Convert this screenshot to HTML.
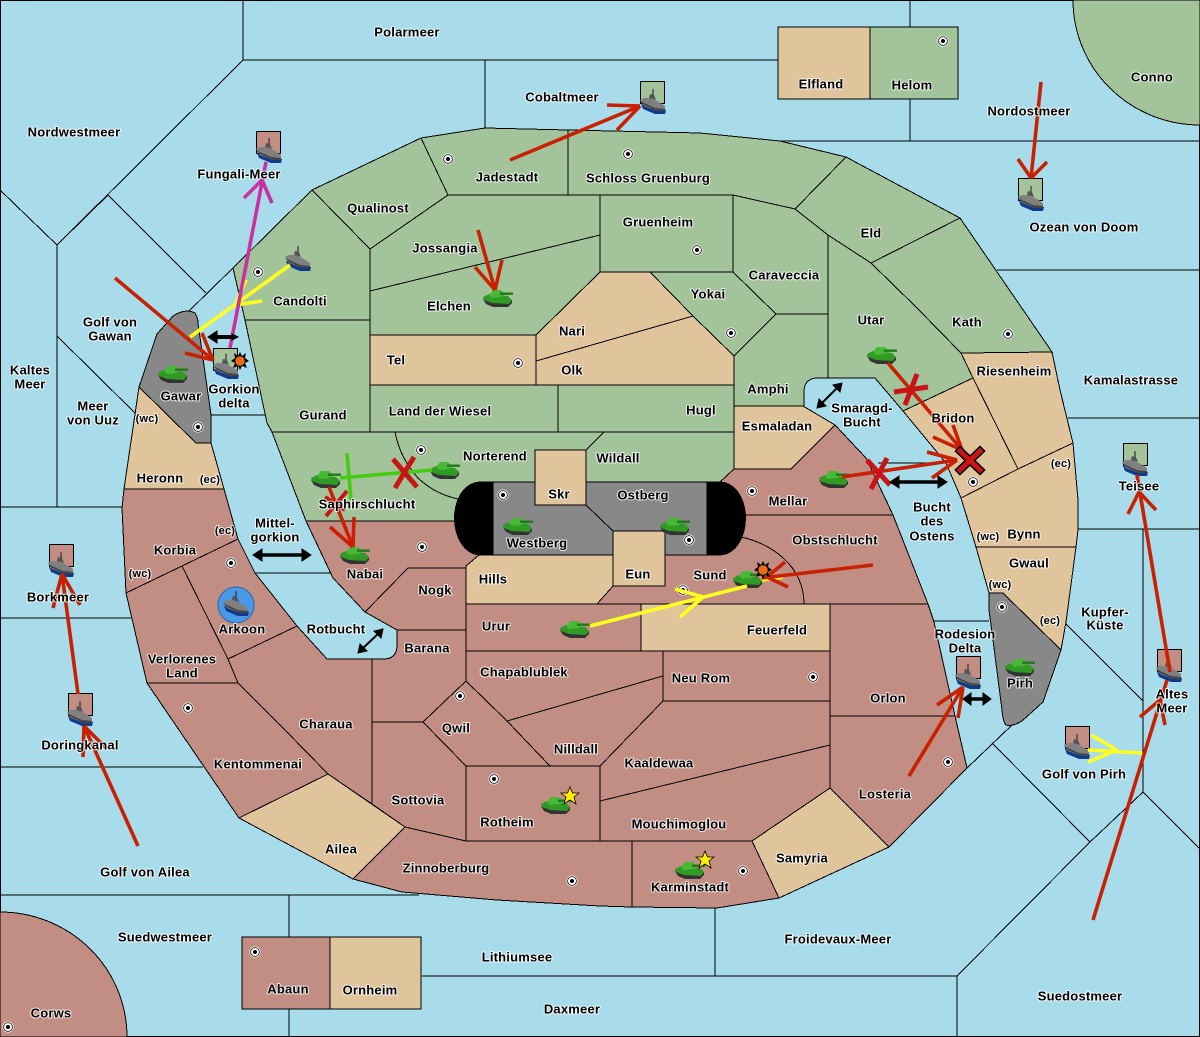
<!DOCTYPE html>
<html><head><meta charset="utf-8"><style>
html,body{margin:0;padding:0;background:#a8dcea}
svg{display:block}
.l polygon,.l path,.l rect{stroke:#000;stroke-width:1;stroke-linejoin:miter;shape-rendering:crispEdges}
.g{fill:#a3c49a}.t{fill:#e0c49c}.r{fill:#c28d83}.y{fill:#888}
.s line,.s path{stroke:#000;stroke-width:1;fill:none;shape-rendering:crispEdges}
.red line{stroke:#c82000;stroke-width:3.6;stroke-linecap:butt}
.yel line{stroke:#ffff20;stroke-width:3.6}
.mag line{stroke:#c832a0;stroke-width:3.6}
.grn line{stroke:#44cc10;stroke-width:3.6}
.xx line{stroke:#c81414;stroke-width:5}
.txt text{font-family:"Liberation Sans",sans-serif;font-weight:bold;font-size:13px;letter-spacing:.2px;text-anchor:middle;dominant-baseline:central;fill:#000;paint-order:stroke;stroke:#fff;stroke-width:2px;stroke-opacity:.8;stroke-linejoin:round}
</style></head><body>
<svg width="1200" height="1037" viewBox="0 0 1200 1037" xmlns="http://www.w3.org/2000/svg">
<defs>
<g id="tank">
<path d="M-15,2 L-12,7 L-5,10 L10,10 L14,6 L14,3 Z" fill="#333"/>
<path d="M-15,0 L-9,-3 L10,-1 L14,3 L11,7 L-6,6 L-14,3 Z" fill="#2f9a24"/>
<path d="M-9,-2 L-5,-7 L3,-7 L7,-3 L4,0 L-6,1 Z" fill="#48b838"/>
<rect x="2" y="-4.5" width="13" height="2.4" fill="#1f7a18"/>
</g>
<g id="ship">
<path d="M-12,1 L-10,6 L2,11 L12,11 L13,7 Z" fill="#0f3a8c"/>
<path d="M-13,-3 L-9,-5 L-3,-5 L6,-1 L12,3 L12,8 L4,8 L-9,3 Z" fill="#808080"/>
<path d="M-13,-2 L-9,2 L4,8 L12,8 L12,6 L2,5 L-9,0 Z" fill="#444"/>
<path d="M-4,-5 L-3,-9 L1,-8 L3,-3 Z" fill="#555"/>
<line x1="0" y1="-8" x2="0" y2="-14" stroke="#333" stroke-width="1.2"/>
</g>
<g id="cap">
<circle r="5.5" fill="#fff"/><circle r="4.4" fill="none" stroke="#000" stroke-width=".8"/><circle r="2" fill="#000"/>
</g>
<g id="star"><polygon points="0,-9 2.5,-3 9,-3 4,1 6,8 0,4 -6,8 -4,1 -9,-3 -2.5,-3" fill="#ffee00" stroke="#000" stroke-width=".8"/></g>
<g id="boom"><polygon points="0,-9 2,-5 6,-8 5,-3 9,0 5,2 7,7 2,5 0,9 -2,5 -7,7 -5,2 -9,0 -5,-3 -6,-8 -2,-5" fill="#000"/><circle r="4.8" fill="#f06a10"/></g>
</defs>
<rect width="1200" height="1037" fill="#a8dcea"/>

<g class="s">
<path d="M243,0V60L57,245"/>
<path d="M243,60H778"/><path d="M485,60V128"/>
<path d="M910,0V27M910,99V141"/><path d="M780,141H1200"/>
<path d="M0,190L57,245V507"/>
<path d="M57,245L108,195L206,293"/><path d="M188,312L233,268"/>
<path d="M57,336L135,413"/>
<path d="M0,507H122"/><path d="M0,618H131"/><path d="M0,767H203"/>
<path d="M0,895H419"/><path d="M289,895V937M289,1009V1037"/>
<path d="M422,976H957"/><path d="M957,976L1090,842"/><path d="M957,976V1037"/><path d="M715,908V976"/>
<path d="M1090,842L993,744"/><path d="M1012,725L967,768"/>
<path d="M1090,842L1143,792L1200,849"/><path d="M1143,529V792"/>
<path d="M1078,529H1200"/><path d="M1066,624L1143,701"/>
<path d="M997,270H1200"/><path d="M1068,418H1200"/>
<path d="M933,621H989"/><path d="M211,415H266"/>
<path d="M878,463H946"/><path d="M255,573H332"/>
<path d="M1199.5,0V1037M.5,0V1037M0,1036.5H1200M0,.5H1200"/>
</g>

<g class="l">
<path class="g" d="M1073,0A127,125 0 0 0 1200,125V0Z"/>
<path class="r" d="M0,912A127,125 0 0 1 127,1037H0Z"/>
<rect class="t" x="778" y="27" width="92" height="72"/>
<rect class="g" x="870" y="27" width="88" height="72"/>
<rect class="r" x="242" y="937" width="88" height="72"/>
<rect class="t" x="330" y="937" width="91" height="72"/>

<polygon class="g" points="233,268 312,190 370,249 370,320 245,320"/>
<polygon class="g" points="245,320 370,320 370,432 272,432 267,423"/>
<polygon class="g" points="312,190 421,138 448,195 370,249"/>
<polygon class="g" points="421,138 485,128 568,130 568,195 448,195"/>
<polygon class="g" points="568,130 700,133 780,141 846,157 795,209 733,195 568,195"/>
<polygon class="g" points="448,195 600,195 600,235 370,291 370,249"/>
<polygon class="g" points="370,291 600,235 600,272 536,335 370,335"/>
<polygon class="g" points="600,195 733,195 733,272 600,272"/>
<polygon class="t" points="600,272 650,272 693,316 536,361 536,335"/>
<polygon class="t" points="536,361 693,316 734,356 734,385 536,385"/>
<polygon class="t" points="370,335 536,335 536,385 370,385"/>
<polygon class="g" points="650,272 733,272 776,314 734,356 693,316"/>
<polygon class="g" points="733,195 795,209 828,235 828,314 776,314 733,272"/>
<polygon class="g" points="795,209 846,157 960,218 871,263 828,235"/>
<polygon class="g" points="871,263 960,218 1052,352 961,353 917,308"/>
<polygon class="g" points="828,235 871,263 917,308 961,353 973,378 903,411 875,378 828,378"/>
<path class="g" d="M734,356L776,314H828V378H818Q804,378 804,392V406H734Z"/>
<polygon class="g" points="558,385 734,385 734,432 558,432"/>
<polygon class="g" points="370,385 558,385 558,432 370,432"/>
<polygon class="t" points="734,406 803,406 835,425 791,469 734,469"/>
<polygon class="g" points="604,432 734,432 734,469 720,482 586,482 586,450"/>
<path class="g" d="M395,432H604L586,450H535V482H495V499H458Q435,494 418,478Q400,458 395,432Z"/>
<path class="g" d="M272,432H395Q400,458 418,478Q435,494 458,499H475V521H306Z"/>

<path class="r" d="M306,521H490V540L479,555L466,566V568H408L365,612L333,578Z"/>
<polygon class="r" points="408,568 466,568 466,630 397,630 365,612"/>
<polygon class="t" points="479,555 613,555 613,586 597,604 466,604 466,566"/>
<polygon class="r" points="466,604 641,604 641,651 466,651"/>
<polygon class="t" points="641,604 830,604 830,651 641,651"/>
<polygon class="r" points="466,651 663,651 663,676 507,721 466,681"/>
<polygon class="r" points="663,651 830,651 830,701 663,701"/>
<polygon class="r" points="507,721 663,676 663,701 600,766 550,766"/>
<polygon class="r" points="466,681 507,721 550,766 466,766 423,722"/>
<polygon class="r" points="466,766 600,766 600,841 466,841"/>
<polygon class="r" points="600,766 663,701 830,701 830,745 600,801"/>
<polygon class="r" points="600,801 830,745 830,788 752,841 600,841"/>
<polygon class="r" points="632,841 752,841 779,898 717,908 632,907"/>
<path class="r" d="M353,879L405,827L466,841H632V907L600,906L497,900L402,892Z"/>
<polygon class="t" points="752,841 830,788 889,847 779,898"/>
<polygon class="r" points="830,716 955,716 967,768 889,847 830,788"/>
<polygon class="r" points="830,604 928,604 934,622 955,716 830,716"/>
<path class="r" d="M372,659H385Q397,658 397,645V630H466V681L423,722H372Z"/>
<polygon class="r" points="372,722 423,722 466,766 466,841 405,827 372,804"/>
<polygon class="r" points="228,659 297,626 327,659 372,659 372,804 328,774 285,730 238,683"/>
<polygon class="r" points="182,566 238,539 255,573 297,626 228,659"/>
<polygon class="r" points="126,593 182,566 228,659 238,683 147,683"/>
<polygon class="r" points="147,683 238,683 285,730 328,774 239,818"/>
<polygon class="t" points="328,774 405,827 353,879 239,818"/>
<polygon class="r" points="124,489 224,489 238,539 126,593 122,508"/>
<polygon class="t" points="139,387 196,443 211,443 224,489 124,489"/>
<path class="y" d="M157,334L173,316Q185,308 195,313Q198,318 198,323L211,415V443H196L139,387Z"/>
<polygon class="t" points="903,411 973,378 1018,469 961,498 946,463"/>
<polygon class="t" points="961,353 1052,352 1060,390 1073,443 1018,469 973,378"/>
<path class="t" d="M961,498L1018,469L1073,443L1078,500V530L1076,547H976Z"/>
<polygon class="t" points="976,547 1076,547 1066,622 1061,650 1003,593 989,593"/>
<path class="y" d="M989,593H1003L1061,650L1043,702L1022,721Q1012,727 1006,725Q1003,722 1002,710L993,640L989,610Z"/>

<path class="r" d="M720,482L734,469H791L835,425L866,458L893,515H700V482Z"/>
<path class="r" d="M700,515H893L928,604H700Z"/>
<path class="r" d="M597,604L613,586H665V537H741C770,543 804,565 804,604Z"/>
<polygon class="y" points="493,482 535,482 535,505 586,505 613,531 613,555 493,555"/>
<polygon class="y" points="586,482 707,482 707,555 665,555 665,531 613,531 586,505"/>
<path d="M493,481.5V555.5H480C464,555 454,537 454,518C454,499 464,482 480,481.5Z" fill="#000" style="stroke:none"/>
<path d="M707,481.5V555.5H720C736,555 746,537 746,518C746,499 736,482 720,481.5Z" fill="#000" style="stroke:none"/>
<rect class="t" x="535" y="450" width="51" height="55"/>
<rect class="t" x="613" y="531" width="52" height="55"/>
</g>

<circle cx="236" cy="605" r="18" fill="#4a98e8" stroke="#2a68a8"/>

<g fill="none" stroke="#000" stroke-width="1" shape-rendering="crispEdges">
<rect x="256.5" y="131.5" width="24" height="22" style="fill:#c28d83"/>
<rect x="640.5" y="81.5" width="24" height="22" style="fill:#a3c49a"/>
<rect x="213.5" y="348.5" width="24" height="22" style="fill:#a3c49a"/>
<rect x="1018.5" y="178.5" width="24" height="22" style="fill:#a3c49a"/>
<rect x="49.5" y="544.5" width="24" height="22" style="fill:#c28d83"/>
<rect x="68.5" y="693.5" width="24" height="22" style="fill:#c28d83"/>
<rect x="956.5" y="656.5" width="24" height="22" style="fill:#c28d83"/>
<rect x="1157.5" y="649.5" width="24" height="22" style="fill:#c28d83"/>
<rect x="1065.5" y="726.5" width="24" height="22" style="fill:#c28d83"/>
<rect x="1123.5" y="443.5" width="24" height="22" style="fill:#a3c49a"/>
</g>

<use href="#ship" x="269" y="152"/><use href="#ship" x="653" y="103"/><use href="#ship" x="298" y="260"/>
<use href="#ship" x="226" y="368"/><use href="#ship" x="1031" y="200"/><use href="#ship" x="61" y="566"/>
<use href="#ship" x="80" y="715"/><use href="#ship" x="236" y="605"/><use href="#ship" x="968" y="678"/>
<use href="#ship" x="1169" y="671"/><use href="#ship" x="1077" y="748"/><use href="#ship" x="1135" y="465"/>

<use href="#tank" x="498" y="297"/><use href="#tank" x="882" y="354"/><use href="#tank" x="834" y="478"/>
<use href="#tank" x="326" y="478"/><use href="#tank" x="445" y="469"/><use href="#tank" x="355" y="554"/>
<use href="#tank" x="518" y="525"/><use href="#tank" x="675" y="525"/><use href="#tank" x="748" y="578"/>
<use href="#tank" x="575" y="628"/><use href="#tank" x="556" y="804"/><use href="#tank" x="690" y="869"/>
<use href="#tank" x="1020" y="666"/><use href="#tank" x="173" y="373"/>

<use href="#cap" x="448" y="159"/><use href="#cap" x="628" y="154"/><use href="#cap" x="943" y="41"/><use href="#cap" x="697" y="250"/>
<use href="#cap" x="258" y="272"/><use href="#cap" x="518" y="363"/><use href="#cap" x="731" y="333"/><use href="#cap" x="1008" y="334"/>
<use href="#cap" x="421" y="450"/><use href="#cap" x="503" y="495"/><use href="#cap" x="752" y="491"/><use href="#cap" x="689" y="540"/>
<use href="#cap" x="198" y="427"/><use href="#cap" x="231" y="563"/><use href="#cap" x="422" y="547"/><use href="#cap" x="188" y="708"/>
<use href="#cap" x="460" y="696"/><use href="#cap" x="683" y="590"/><use href="#cap" x="813" y="677"/><use href="#cap" x="1002" y="607"/>
<use href="#cap" x="973" y="482"/><use href="#cap" x="948" y="762"/><use href="#cap" x="494" y="779"/><use href="#cap" x="572" y="881"/>
<use href="#cap" x="743" y="871"/><use href="#cap" x="255" y="952"/><use href="#cap" x="8" y="1027"/>

<use href="#star" x="570" y="796"/><use href="#star" x="705" y="860"/>

<g class="yel">
<line x1="290" y1="265" x2="190" y2="337"/><line x1="235" y1="305" x2="246" y2="280"/><line x1="235" y1="305" x2="262" y2="301"/>
<line x1="590" y1="626" x2="747" y2="586"/><line x1="703" y1="597" x2="675" y2="589"/><line x1="703" y1="597" x2="680" y2="617"/>
<line x1="762" y1="580" x2="783" y2="577"/>
<line x1="1142" y1="753" x2="1088" y2="750"/><line x1="1117" y1="750" x2="1091" y2="735"/><line x1="1117" y1="750" x2="1088" y2="762"/>
</g>
<g class="mag">
<line x1="230" y1="348" x2="266" y2="162"/><line x1="262" y1="180" x2="244" y2="198"/><line x1="262" y1="180" x2="272" y2="203"/>
</g>
<g class="grn">
<line x1="432" y1="470" x2="340" y2="478"/><line x1="347" y1="453" x2="351" y2="500"/>
</g>
<g class="red">
<line x1="510" y1="160" x2="640" y2="106"/><line x1="640" y1="106" x2="607" y2="105"/><line x1="640" y1="106" x2="617" y2="130"/>
<line x1="1041" y1="82" x2="1031" y2="178"/><line x1="1031" y1="178" x2="1018" y2="159"/><line x1="1031" y1="178" x2="1047" y2="162"/>
<line x1="115" y1="278" x2="213" y2="360"/><line x1="213" y1="360" x2="185" y2="353"/><line x1="213" y1="360" x2="202" y2="333"/>
<line x1="478" y1="230" x2="495" y2="290"/><line x1="495" y1="290" x2="475" y2="267"/><line x1="495" y1="290" x2="502" y2="260"/>
<line x1="329" y1="487" x2="353" y2="547"/><line x1="353" y1="547" x2="330" y2="527"/><line x1="353" y1="547" x2="354" y2="517"/>
<line x1="888" y1="363" x2="962" y2="450"/><line x1="962" y1="450" x2="933" y2="437"/><line x1="962" y1="450" x2="953" y2="425"/>
<line x1="842" y1="477" x2="957" y2="460"/><line x1="957" y1="460" x2="927" y2="452"/><line x1="957" y1="460" x2="932" y2="478"/>
<line x1="873" y1="565" x2="762" y2="578"/><line x1="767" y1="577" x2="785" y2="562"/><line x1="767" y1="577" x2="788" y2="587"/>
<line x1="78" y1="694" x2="62" y2="574"/><line x1="62" y1="574" x2="53" y2="608"/><line x1="62" y1="574" x2="80" y2="605"/>
<line x1="138" y1="846" x2="84" y2="726"/><line x1="84" y1="726" x2="83" y2="757"/><line x1="84" y1="726" x2="107" y2="749"/>
<line x1="1170" y1="672" x2="1137" y2="475"/><line x1="1139" y1="492" x2="1128" y2="514"/><line x1="1139" y1="492" x2="1156" y2="510"/>
<line x1="1093" y1="920" x2="1167" y2="680"/><line x1="1160" y1="700" x2="1140" y2="717"/><line x1="1160" y1="700" x2="1165" y2="725"/>
<line x1="909" y1="776" x2="963" y2="687"/><line x1="963" y1="687" x2="937" y2="705"/><line x1="963" y1="687" x2="958" y2="718"/>
</g>
<g class="xx">
<line x1="894" y1="392" x2="928" y2="387"/><line x1="905" y1="405" x2="917" y2="374"/>
<line x1="867" y1="460" x2="890" y2="485"/><line x1="887" y1="458" x2="871" y2="489"/>
<line x1="393" y1="459" x2="417" y2="487"/><line x1="414" y1="457" x2="395" y2="488"/>
<line x1="325" y1="497" x2="345" y2="510" style="stroke-width:4"/><line x1="347" y1="491" x2="326" y2="516" style="stroke-width:4"/>
</g>
<g stroke-linecap="square">
<line x1="960" y1="451" x2="980" y2="470" stroke="#000" stroke-width="8"/><line x1="980" y1="451" x2="960" y2="470" stroke="#000" stroke-width="8"/>
<line x1="960" y1="451" x2="980" y2="470" stroke="#c81414" stroke-width="5"/><line x1="980" y1="451" x2="960" y2="470" stroke="#c81414" stroke-width="5"/>
</g>

<use href="#boom" x="240" y="361"/><use href="#boom" x="763" y="570"/>

<g stroke="#000" fill="#000">
<line x1="216" y1="337" x2="232" y2="337" stroke-width="4"/><polygon points="208,337 217,331 217,343"/><polygon points="238,337 232,334 232,340"/>
<line x1="260" y1="555" x2="304" y2="555" stroke-width="3.5"/><polygon points="253,555 262,549 262,561"/><polygon points="311,555 302,549 302,561"/>
<line x1="897" y1="482" x2="940" y2="482" stroke-width="3.5"/><polygon points="890,482 899,476 899,488"/><polygon points="947,482 938,476 938,488"/>
<line x1="969" y1="699" x2="985" y2="699" stroke-width="3.5"/><polygon points="963,699 971,693 971,705"/><polygon points="991,699 983,693 983,705"/>
<line x1="362" y1="649" x2="379" y2="633" stroke-width="2"/><polygon points="358,653 360,644 367,651"/><polygon points="383,629 381,638 374,631"/>
<line x1="821" y1="404" x2="838" y2="387" stroke-width="2"/><polygon points="817,408 819,399 826,406"/><polygon points="842,383 840,392 833,385"/>
</g>

<g class="txt">
<text x="74" y="132">Nordwestmeer</text><text x="407" y="32">Polarmeer</text><text x="562" y="97">Cobaltmeer</text>
<text x="821" y="84">Elfland</text><text x="912" y="85">Helom</text><text x="1152" y="77">Conno</text>
<text x="1029" y="111">Nordostmeer</text><text x="239" y="174">Fungali-Meer</text><text x="378" y="208">Qualinost</text>
<text x="507" y="177">Jadestadt</text><text x="648" y="178">Schloss Gruenburg</text><text x="1084" y="227">Ozean von Doom</text>
<text x="658" y="222">Gruenheim</text><text x="445" y="248">Jossangia</text><text x="871" y="233">Eld</text>
<text x="784" y="275">Caraveccia</text><text x="300" y="301">Candolti</text><text x="449" y="306">Elchen</text>
<text x="708" y="294">Yokai</text><text x="572" y="331">Nari</text><text x="871" y="320">Utar</text><text x="967" y="322">Kath</text>
<text x="110" y="322">Golf von</text><text x="110" y="336">Gawan</text><text x="396" y="360">Tel</text><text x="572" y="370">Olk</text>
<text x="1014" y="371">Riesenheim</text><text x="30" y="370">Kaltes</text><text x="30" y="384">Meer</text>
<text x="1131" y="380">Kamalastrasse</text><text x="768" y="389">Amphi</text><text x="181" y="396">Gawar</text>
<text x="234" y="389">Gorkion</text><text x="234" y="403">delta</text><text x="93" y="406">Meer</text><text x="93" y="420">von Uuz</text>
<text x="147" y="419" style="font-size:11px">(wc)</text><text x="440" y="411">Land der Wiesel</text><text x="701" y="410">Hugl</text>
<text x="323" y="415">Gurand</text><text x="862" y="408">Smaragd-</text><text x="862" y="422">Bucht</text><text x="953" y="418">Bridon</text>
<text x="777" y="426">Esmaladan</text><text x="495" y="456">Norterend</text><text x="618" y="458">Wildall</text>
<text x="1061" y="464" style="font-size:11px">(ec)</text><text x="160" y="478">Heronn</text><text x="210" y="480" style="font-size:11px">(ec)</text>
<text x="559" y="494">Skr</text><text x="643" y="495">Ostberg</text><text x="788" y="501">Mellar</text>
<text x="367" y="504">Saphirschlucht</text><text x="932" y="507">Bucht</text><text x="932" y="521">des</text><text x="932" y="536">Ostens</text>
<text x="225" y="531" style="font-size:11px">(ec)</text><text x="275" y="523">Mittel-</text><text x="275" y="537">gorkion</text>
<text x="1024" y="534">Bynn</text><text x="988" y="537" style="font-size:11px">(wc)</text><text x="537" y="543">Westberg</text>
<text x="835" y="540">Obstschlucht</text><text x="175" y="550">Korbia</text><text x="1029" y="563">Gwaul</text>
<text x="710" y="575">Sund</text><text x="638" y="574">Eun</text><text x="365" y="574">Nabai</text><text x="493" y="579">Hills</text>
<text x="140" y="574" style="font-size:11px">(wc)</text><text x="1000" y="585" style="font-size:11px">(wc)</text>
<text x="435" y="590">Nogk</text><text x="58" y="597">Borkmeer</text><text x="1105" y="612">Kupfer-</text><text x="1105" y="625">Küste</text>
<text x="1050" y="621" style="font-size:11px">(ec)</text><text x="496" y="626">Urur</text><text x="777" y="630">Feuerfeld</text>
<text x="336" y="629">Rotbucht</text><text x="242" y="629">Arkoon</text><text x="965" y="634">Rodesion</text><text x="965" y="648">Delta</text>
<text x="427" y="648">Barana</text><text x="182" y="659">Verlorenes</text><text x="182" y="673">Land</text>
<text x="524" y="672">Chapablublek</text><text x="701" y="678">Neu Rom</text><text x="1020" y="683">Pirh</text>
<text x="1172" y="694">Altes</text><text x="1172" y="708">Meer</text><text x="888" y="698">Orlon</text><text x="326" y="724">Charaua</text>
<text x="456" y="728">Qwil</text><text x="80" y="745">Doringkanal</text><text x="576" y="749">Nilldall</text>
<text x="258" y="764">Kentommenai</text><text x="659" y="763">Kaaldewaa</text><text x="1084" y="774">Golf von Pirh</text>
<text x="885" y="794">Losteria</text><text x="418" y="800">Sottovia</text><text x="507" y="822">Rotheim</text>
<text x="679" y="824">Mouchimoglou</text><text x="341" y="849">Ailea</text><text x="802" y="858">Samyria</text>
<text x="446" y="868">Zinnoberburg</text><text x="145" y="872">Golf von Ailea</text><text x="690" y="887">Karminstadt</text>
<text x="165" y="937">Suedwestmeer</text><text x="838" y="939">Froidevaux-Meer</text><text x="517" y="957">Lithiumsee</text>
<text x="288" y="989">Abaun</text><text x="370" y="990">Ornheim</text><text x="1080" y="996">Suedostmeer</text>
<text x="572" y="1009">Daxmeer</text><text x="51" y="1013">Corws</text><text x="1139" y="486">Teisee</text>
</g>
</svg>
</body></html>
